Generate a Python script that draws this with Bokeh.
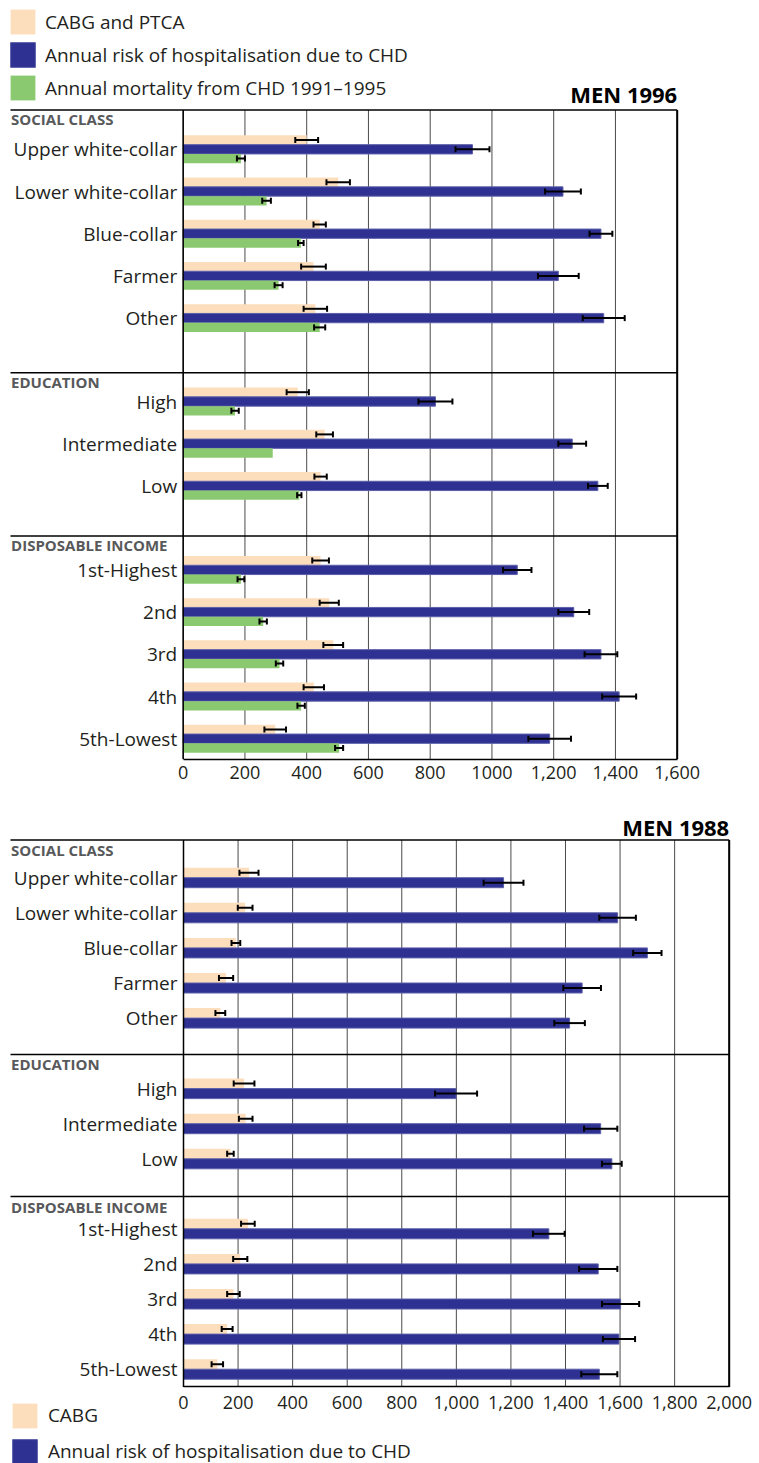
from bokeh.plotting import figure
from bokeh.models import (Range1d, FixedTicker, ColumnDataSource, Whisker, TeeHead,
                          Legend, LegendItem, Label)
from bokeh.layouts import column
from bokeh.embed import file_html
from bokeh.resources import INLINE
from bokeh.core.properties import value

# ---------------- data ----------------
section_names = ["SOCIAL CLASS", "EDUCATION", "DISPOSABLE INCOME"]
social_class = ["Upper white-collar", "Lower white-collar", "Blue-collar", "Farmer", "Other"]
education = ["High", "Intermediate", "Low"]
income = ["1st-Highest", "2nd", "3rd", "4th", "5th-Lowest"]
categories = social_class + education + income

# MEN 1996
m96_cabg_ptca = [400, 502, 442, 422, 428, 371, 458, 445, 445, 473, 486, 423, 298]
m96_cabg_ptca_err = [37, 38, 20, 40, 38, 36, 27, 20, 27, 31, 32, 33, 35]
m96_hosp = [937, 1230, 1353, 1215, 1362, 817, 1260, 1343, 1082, 1265, 1353, 1412, 1187]
m96_hosp_err = [55, 58, 37, 66, 68, 55, 45, 32, 46, 50, 53, 55, 69]
m96_mort = [187, 270, 381, 309, 442, 168, 290, 376, 187, 259, 312, 382, 505]
m96_mort_err = [13, 14, 9, 13, 18, 12, None, 7, 11, 12, 12, 12, 13]

# MEN 1988
m88_cabg = [240, 226, 192, 156, 135, 222, 228, 172, 236, 208, 183, 160, 124]
m88_cabg_err = [35, 27, 16, 26, 18, 38, 25, 12, 25, 26, 23, 20, 21]
m88_hosp = [1173, 1591, 1700, 1461, 1415, 999, 1529, 1570, 1339, 1520, 1602, 1596, 1524]
m88_hosp_err = [73, 67, 52, 69, 56, 77, 61, 36, 58, 70, 68, 59, 66]

ticks_1996 = [0, 200, 400, 600, 800, 1000, 1200, 1400, 1600]
tick_labels_1996 = ["0", "200", "400", "600", "800", "1000", "1,200", "1,400", "1,600"]
ticks_1988 = [0, 200, 400, 600, 800, 1000, 1200, 1400, 1600, 1800, 2000]
tick_labels_1988 = ["0", "200", "400", "600", "800", "1,000", "1,200", "1,400",
                    "1,600", "1,800", "2,000"]

label_cabg_ptca = "CABG and PTCA"
label_cabg = "CABG"
label_hosp = "Annual risk of hospitalisation due to CHD"
label_mort = "Annual mortality from CHD 1991\u20131995"

# ---------------- style ----------------
FONT = "Open Sans"
INK = "#231f20"
PEACH = "#fddebc"
NAVY = "#2e3192"
NAVY_EDGE = "#5c5fa8"
GREEN = "#8bc970"
HEAD_GREY = "#58595b"
GRID = "#4a4a4a"
PAGE_W = 759
FRAME_LEFT = 5          # page x of the frames' left edge
RULE_LEFT = 10          # page x where the horizontal rules start
HEADER_LEFT = 10.6      # page x of the section headers


def row_layout(counts, pad_top, pad_bot, row):
    centers, tops = [], []
    y = 0.0
    for n, a, b in zip(counts, pad_top, pad_bot):
        tops.append(y)
        centers += [y + a + i * row for i in range(n)]
        y += a + (n - 1) * row + b
    return centers, tops, y


counts = [len(social_class), len(education), len(income)]


def build_chart(title, x_max, ticks, tick_labels, zero_px, axis_px, frame_top_page, fh,
                box_top_page, b_bot, tick_standoff, fixed_axis, layout, series, bar_h,
                head_size, header_dy, title_page_y, legend_cfg):
    centers, tops, total = layout
    top_extra = box_top_page - frame_top_page
    k = axis_px / x_max
    left_px = zero_px - FRAME_LEFT
    fw = PAGE_W - FRAME_LEFT
    x0 = -left_px / k
    x1 = x0 + fw / k
    p = figure(frame_width=fw, frame_height=fh,
               x_range=Range1d(x0, x1), y_range=Range1d(fh - top_extra, -top_extra),
               output_backend="svg", toolbar_location=None, y_axis_location=None,
               min_border_left=FRAME_LEFT, min_border_right=0,
               min_border_top=0, min_border_bottom=b_bot)
    p.outline_line_color = None
    p.background_fill_color = "white"
    p.border_fill_color = "white"
    p.grid.visible = False
    ax = p.xaxis[0]
    ax.ticker = FixedTicker(ticks=ticks)
    ax.major_label_overrides = dict(zip(ticks, tick_labels))
    ax.bounds = (0, x_max)
    if fixed_axis:
        ax.fixed_location = total
    ax.major_tick_in = 0
    ax.major_tick_out = 0
    ax.minor_tick_line_color = None
    ax.axis_line_color = "black"
    ax.axis_line_width = 1.5
    ax.major_label_text_font = FONT
    ax.major_label_text_font_size = "18px"
    ax.major_label_text_color = INK
    ax.major_label_standoff = tick_standoff

    # vertical grid lines inside the box
    p.segment(x0=ticks, x1=ticks, y0=[0] * len(ticks), y1=[total] * len(ticks),
              line_color=GRID, line_width=1)

    # bars + error bars
    rends = []
    for vals, errs, color, off, lab, lc in series:
        ys = [c + off for c in centers]
        src = ColumnDataSource(dict(y=ys, right=vals))
        r = p.hbar(y="y", left=0, right="right", height=bar_h, source=src,
                   fill_color=color, line_color=lc, line_width=1 if lc else 0)
        rends.append((lab, r))
        keep = [i for i, e in enumerate(errs) if e is not None]
        wsrc = ColumnDataSource(dict(y=[ys[i] for i in keep],
                                     lo=[vals[i] - errs[i] for i in keep],
                                     hi=[vals[i] + errs[i] for i in keep]))
        w = Whisker(source=wsrc, base="y", lower="lo", upper="hi", dimension="width",
                    line_color="black", line_width=2,
                    upper_head=TeeHead(size=head_size, line_color="black", line_width=2),
                    lower_head=TeeHead(size=head_size, line_color="black", line_width=2))
        w.level = "overlay"
        p.add_layout(w)

    # box rules
    xr = x0 + (RULE_LEFT - FRAME_LEFT) / k
    p.segment(x0=[xr] * len(tops), x1=[x_max] * len(tops), y0=tops, y1=tops,
              line_color="black", line_width=1.5)
    p.segment(x0=[0], x1=[0], y0=[0], y1=[total], line_color="black", line_width=1.5)
    p.segment(x0=[x_max], x1=[x_max], y0=[0], y1=[total], line_color="black", line_width=2)

    # category labels
    p.text(x=[0] * len(categories), y=centers, text=categories, x_offset=-6,
           text_align="right", text_baseline="middle", text_font=value(FONT),
           text_font_size="19px", text_color=INK)
    # section headers
    p.text(x=[x0] * len(section_names), y=[t + header_dy for t in tops], text=section_names,
           x_offset=HEADER_LEFT - FRAME_LEFT, text_align="left", text_baseline="middle",
           text_font=value(FONT), text_font_size="15px", text_font_style="bold",
           text_color=HEAD_GREY)

    # title
    p.add_layout(Label(x=x_max, y=title_page_y - box_top_page, text=title, text_align="right",
                       text_baseline="middle", text_font=FONT, text_font_size="22px",
                       text_font_style="bold", text_color="black"))

    # legend (page coordinates of the first square, label start, glyph size, spacing)
    sq_x, sq_top, text_x, glyph, spacing = legend_cfg
    items = [LegendItem(label=lab, renderers=[r]) for lab, r in rends]
    inset = 0.1 * glyph
    n = len(items)
    leg_h = n * glyph + (n - 1) * spacing
    gl = (sq_x - FRAME_LEFT) - inset
    top_rel = (sq_top - frame_top_page) - inset
    legend = Legend(items=items, location=(gl, fh - top_rel - leg_h),
                    orientation="vertical",
                    glyph_width=glyph, glyph_height=glyph, label_height=glyph,
                    spacing=spacing, padding=0, margin=0,
                    label_standoff=int(round((text_x - FRAME_LEFT) - (gl + glyph))),
                    border_line_color=None, background_fill_alpha=0,
                    label_text_font=FONT, label_text_font_size="19px",
                    label_text_color=INK)
    p.add_layout(legend, "center")
    return p


# ---- MEN 1996 (page y 0 .. 803) ----
lay96 = row_layout(counts, [39.3, 28.8, 34.0], [54.6, 50.0, 20.6], 42.2)
series96 = [
    (m96_cabg_ptca, m96_cabg_ptca_err, PEACH, -9.3, label_cabg_ptca, None),
    (m96_hosp, m96_hosp_err, NAVY, 0.0, label_hosp, NAVY_EDGE),
    (m96_mort, m96_mort_err, GREEN, 9.3, label_mort, None),
]
p96 = build_chart("MEN 1996", 1600, ticks_1996, tick_labels_1996,
                  zero_px=182.7, axis_px=494, frame_top_page=0, fh=759,
                  box_top_page=109.5, b_bot=44, tick_standoff=6, fixed_axis=False,
                  layout=lay96, series=series96, bar_h=9.3, head_size=6,
                  header_dy=9, title_page_y=93,
                  legend_cfg=(10, 9.3, 45, 31, 2))

# ---- MEN 1988 (page y 803 .. 1463) ----
lay88 = row_layout(counts, [37.7, 34.2, 32.3], [36.3, 37.7, 17.7], 35.1)
series88 = [
    (m88_cabg, m88_cabg_err, PEACH, -5.0, label_cabg, None),
    (m88_hosp, m88_hosp_err, NAVY, 5.0, label_hosp, NAVY_EDGE),
]
p88 = build_chart("MEN 1988", 2000, ticks_1988, tick_labels_1988,
                  zero_px=183, axis_px=545.7, frame_top_page=803, fh=660,
                  box_top_page=839.5, b_bot=0, tick_standoff=9, fixed_axis=True,
                  layout=lay88, series=series88, bar_h=10, head_size=6,
                  header_dy=10, title_page_y=826.7,
                  legend_cfg=(12, 1402.7, 48.3, 31, 5))

layout = column(p96, p88, spacing=0)
open("out.html", "w").write(file_html(layout, INLINE))
